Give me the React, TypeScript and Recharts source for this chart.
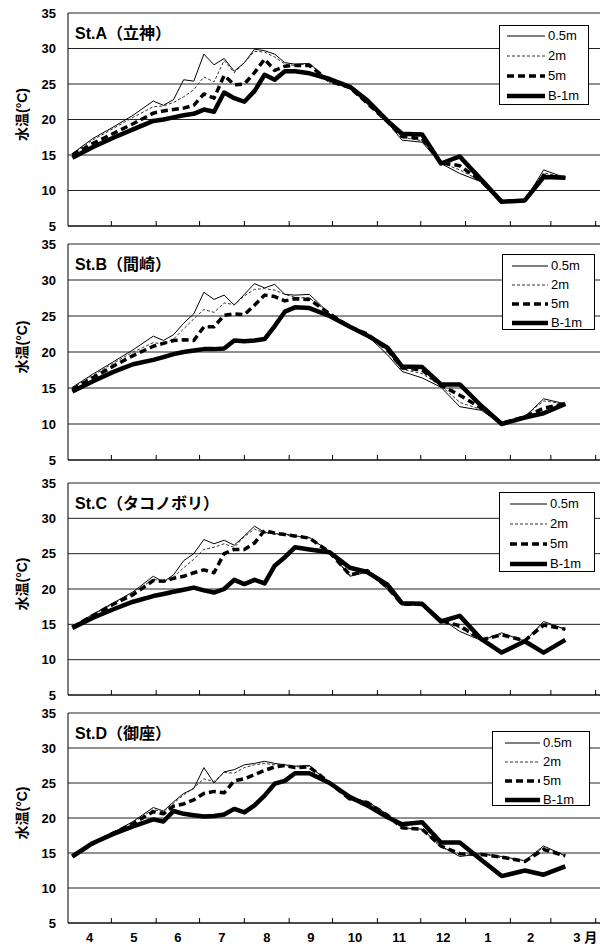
import React from 'react';
import { LineChart, Line, XAxis, YAxis, CartesianGrid, ReferenceLine, Legend } from 'recharts';

// survey days, counted from April 1
const days = [3, 17, 31, 45, 59, 66, 73, 80, 87, 94, 101, 108, 115, 122, 129, 136, 143, 150, 157, 167, 181, 195, 207, 221, 231, 245, 258, 271, 286, 300, 316, 329, 344];

const monthStarts = [0, 30, 61, 91, 122, 153, 183, 214, 244, 275, 306, 334, 365];
const monthLabels = ['4', '5', '6', '7', '8', '9', '10', '11', '12', '1', '2', '3 月'];
const yTicks = [5, 10, 15, 20, 25, 30, 35];
const depthNames = ['0.5m', '2m', '5m', 'B-1m'];
const stationNames = ['St.A（立神）', 'St.B（間崎）', 'St.C（タコノボリ）', 'St.D（御座）'];

// St.A
const stA05 = [15.2, 17.3, 18.9, 20.6, 22.6, 22.0, 22.8, 25.6, 25.4, 29.2, 27.7, 28.6, 26.8, 28.0, 29.9, 29.7, 29.2, 28.0, 27.8, 27.9, 25.4, 24.4, 22.2, 19.6, 17.1, 16.8, 13.8, 12.4, 11.2, 8.4, 8.6, 12.9, 11.8];
const stA2 = [15.1, 17.1, 18.7, 20.3, 21.8, 21.9, 22.4, 23.2, 24.2, 26.0, 25.3, 28.3, 26.6, 28.0, 29.6, 29.5, 28.8, 27.8, 27.6, 27.9, 25.2, 24.4, 22.2, 19.7, 17.5, 17.0, 13.9, 12.9, 11.3, 8.5, 8.6, 12.5, 11.8];
const stA5 = [15.0, 16.6, 18.0, 19.4, 20.9, 21.2, 21.4, 21.6, 22.0, 23.6, 23.0, 26.2, 24.9, 25.0, 26.6, 28.5, 26.9, 27.5, 27.6, 27.6, 25.4, 24.5, 22.3, 19.7, 17.6, 17.3, 13.9, 13.5, 11.3, 8.5, 8.6, 12.1, 11.8];
const stAB = [14.6, 16.1, 17.4, 18.6, 19.8, 20.0, 20.3, 20.6, 20.8, 21.4, 21.1, 23.8, 23.0, 22.5, 24.0, 26.3, 25.6, 26.8, 26.8, 26.5, 25.7, 24.6, 22.7, 19.8, 18.0, 17.9, 13.8, 14.8, 11.5, 8.4, 8.6, 11.9, 11.8];

// St.B
const stB05 = [15.1, 16.9, 18.6, 20.3, 22.2, 21.6, 22.4, 24.0, 25.3, 28.3, 27.3, 27.9, 26.5, 28.0, 29.5, 28.9, 29.4, 28.0, 27.9, 28.0, 25.3, 23.4, 22.3, 19.6, 17.3, 16.4, 15.1, 12.4, 11.9, 10.0, 11.0, 13.5, 12.8];
const stB2 = [15.0, 16.7, 18.4, 20.0, 21.3, 21.1, 21.8, 23.2, 24.6, 25.9, 25.5, 26.8, 26.6, 27.8, 28.7, 28.8, 28.6, 28.0, 27.6, 27.5, 25.3, 23.4, 22.4, 20.2, 17.6, 17.0, 15.3, 13.0, 12.0, 10.0, 11.1, 13.2, 12.8];
const stB5 = [14.8, 16.4, 18.0, 19.5, 20.8, 21.2, 21.6, 21.7, 21.6, 23.5, 23.5, 25.1, 25.3, 25.2, 26.5, 27.9, 27.7, 27.1, 27.4, 27.3, 25.3, 23.5, 22.5, 20.3, 17.8, 17.5, 15.4, 14.0, 12.2, 10.1, 11.0, 12.2, 12.8];
const stBB = [14.5, 15.9, 17.2, 18.3, 18.9, 19.3, 19.7, 20.0, 20.2, 20.4, 20.4, 20.5, 21.6, 21.5, 21.6, 21.8, 23.6, 25.6, 26.2, 26.1, 25.0, 23.5, 22.3, 20.6, 18.0, 17.9, 15.5, 15.5, 12.5, 10.0, 10.9, 11.5, 12.8];

// St.C
const stC05 = [14.7, 16.4, 18.0, 19.6, 21.8, 21.0, 22.0, 24.0, 25.0, 27.0, 26.4, 26.9, 26.2, 27.5, 28.9, 28.0, 27.8, 27.8, 27.5, 27.3, 25.3, 21.8, 22.4, 20.0, 17.9, 17.8, 15.8, 14.0, 12.7, 13.8, 12.6, 15.4, 14.3];
const stC2 = [14.7, 16.3, 17.9, 19.4, 21.4, 21.0, 21.7, 23.0, 24.2, 25.6, 25.9, 26.4, 25.9, 27.4, 28.5, 27.9, 27.8, 27.6, 27.5, 27.2, 25.2, 22.0, 22.6, 20.2, 17.9, 17.8, 15.6, 14.5, 12.8, 13.6, 12.7, 15.2, 14.3];
const stC5 = [14.6, 16.2, 17.8, 19.2, 21.2, 21.1, 21.5, 21.8, 22.3, 22.7, 22.3, 25.0, 25.6, 25.6, 26.5, 28.3, 27.9, 27.7, 27.5, 27.2, 25.2, 22.0, 22.6, 20.2, 17.9, 17.8, 15.5, 14.8, 12.8, 13.5, 12.7, 14.9, 14.3];
const stCB = [14.5, 15.9, 17.1, 18.2, 19.0, 19.3, 19.6, 19.9, 20.2, 19.8, 19.5, 20.0, 21.3, 20.7, 21.3, 20.8, 23.3, 24.5, 25.9, 25.6, 25.2, 23.0, 22.4, 20.6, 18.0, 17.9, 15.4, 16.2, 12.9, 11.0, 12.6, 11.0, 12.8];

// St.D
const stD05 = [14.6, 16.4, 17.9, 19.5, 21.5, 21.0, 22.3, 23.5, 24.2, 27.2, 25.0, 26.6, 26.9, 27.6, 27.8, 28.1, 27.8, 27.6, 27.4, 27.5, 24.9, 22.6, 22.4, 20.5, 18.6, 18.4, 16.0, 14.5, 14.9, 14.5, 13.9, 16.0, 14.6];
const stD2 = [14.6, 16.4, 17.9, 19.4, 21.2, 20.9, 22.1, 23.3, 24.3, 25.6, 25.2, 26.5, 26.4, 27.2, 27.6, 27.8, 27.6, 27.5, 27.3, 27.4, 25.0, 22.6, 22.3, 20.4, 18.5, 18.3, 15.8, 14.8, 14.9, 14.3, 13.9, 15.8, 14.6];
const stD5 = [14.5, 16.3, 17.8, 19.2, 20.9, 20.6, 21.7, 22.0, 22.6, 23.5, 23.8, 23.6, 25.3, 25.6, 26.2, 26.8, 27.3, 27.5, 27.2, 27.3, 25.0, 22.7, 22.2, 20.4, 18.6, 18.4, 16.0, 14.9, 14.8, 14.4, 13.8, 15.5, 14.6];
const stDB = [14.5, 16.4, 17.7, 18.8, 19.8, 19.5, 21.0, 20.6, 20.4, 20.2, 20.3, 20.5, 21.3, 20.8, 21.8, 23.2, 24.9, 25.3, 26.4, 26.4, 25.0, 23.0, 21.8, 20.1, 19.1, 19.4, 16.5, 16.5, 14.0, 11.7, 12.5, 11.9, 13.1];

const stationSeries = [
  [stA05, stA2, stA5, stAB],
  [stB05, stB2, stB5, stBB],
  [stC05, stC2, stC5, stCB],
  [stD05, stD2, stD5, stDB],
];

const lineStyles = [
  { stroke: '#000', width: 1, dash: undefined },
  { stroke: '#333', width: 1, dash: '3 2' },
  { stroke: '#000', width: 3.5, dash: '7 4' },
  { stroke: '#000', width: 4.5, dash: undefined },
];

// panel placement on the page
const panelLayout = [
  { top: 0, plotH: 213, legend: { left: 499, top: 25, w: 90, h: 80, rowTop: 0, rowH: 20, padL: 8, lineW: 38 } },
  { top: 231, plotH: 216, legend: { left: 502, top: 23, w: 93, h: 76, rowTop: 1, rowH: 19, padL: 10, lineW: 36 } },
  { top: 470, plotH: 212, legend: { left: 499, top: 22, w: 96, h: 80, rowTop: 1, rowH: 20, padL: 11, lineW: 37 } },
  { top: 700, plotH: 210, legend: { left: 492, top: 31, w: 98, h: 75, rowTop: 1, rowH: 19, padL: 13, lineW: 35 } },
];

const FONT = "'Liberation Sans', Arial, 'Noto Sans CJK JP', sans-serif";
const monthMids = monthLabels.map((_, i) => (monthStarts[i] + monthStarts[i + 1]) / 2);

const MonthTick = (props: any) => {
  const { x, y, index } = props;
  const last = index === monthLabels.length - 1;
  return (
    <text x={x + (last ? 12 : 0)} y={y + 19} textAnchor="middle" fontSize={13} fontWeight="bold" fill="#000" fontFamily={FONT}>
      {monthLabels[index]}
    </text>
  );
};

const YLabel = (props: any) => {
  const vb = props.viewBox;
  const cx = 22;
  const cy = vb.y + vb.height / 2 - 5;
  return (
    <text x={cx} y={cy} transform={`rotate(-90 ${cx} ${cy})`} textAnchor="middle" dominantBaseline="central" fontSize={14} fontWeight="bold" fill="#000" fontFamily={FONT}>
      水温(°C)
    </text>
  );
};

const LegendBox = ({ box }: { box: any }) => (
  <div style={{ boxSizing: 'border-box', width: box.w, height: box.h, border: '1px solid #000', background: '#fff', paddingTop: box.rowTop, fontFamily: FONT }}>
    {depthNames.map((name, i) => {
      const st = lineStyles[i];
      return (
        <div key={name} style={{ display: 'flex', alignItems: 'center', height: box.rowH, paddingLeft: box.padL - 1 }}>
          <svg width={box.lineW} height={10} style={{ display: 'block' }}>
            <line x1={0} y1={5} x2={box.lineW} y2={5} stroke={st.stroke} strokeWidth={st.width} strokeDasharray={st.dash} strokeLinecap={i === 3 ? 'round' : 'butt'} />
          </svg>
          <span style={{ fontSize: 13, marginLeft: 3, color: '#000', lineHeight: '14px' }}>{name}</span>
        </div>
      );
    })}
  </div>
);

const Panel = ({ idx }: { idx: number }) => {
  const lay = panelLayout[idx];
  const series = stationSeries[idx];
  const isBottom = idx === stationSeries.length - 1;
  const xAxisH = isBottom ? 24 : 9;
  const rows = days.map((day, i) => ({ day, d0: series[0][i], d1: series[1][i], d2: series[2][i], d3: series[3][i] }));
  return (
    <div style={{ position: 'absolute', left: 0, top: lay.top, width: 600, height: 13 + lay.plotH + xAxisH }}>
      <LineChart width={600} height={13 + lay.plotH + xAxisH} data={rows} margin={{ top: 13, right: 0, bottom: 0, left: 0 }}>
        <CartesianGrid vertical={false} stroke="#222" strokeWidth={1} />
        <XAxis
          type="number"
          dataKey="day"
          domain={[0, 368]}
          allowDataOverflow
          ticks={monthMids}
          interval={0}
          tickLine={false}
          tickSize={0}
          tickMargin={0}
          axisLine={{ stroke: '#000' }}
          height={xAxisH}
          tick={isBottom ? <MonthTick /> : false}
        />
        <YAxis
          type="number"
          domain={[5, 35]}
          ticks={yTicks}
          interval={0}
          width={68}
          tickLine={false}
          tickSize={0}
          tickMargin={12}
          axisLine={{ stroke: '#000' }}
          tick={{ fontSize: 13, fontWeight: 'bold', fill: '#000', fontFamily: FONT }}
          label={(p: any) => <YLabel {...p} />}
        />
        {monthStarts.slice(1).map((d) => (
          <ReferenceLine key={d} segment={[{ x: d, y: 5 }, { x: d, y: 5.7 }]} stroke="#000" strokeWidth={1} />
        ))}
        <Legend
          layout="horizontal"
          verticalAlign="middle"
          align="center"
          content={() => <LegendBox box={lay.legend} />}
          wrapperStyle={{ left: lay.legend.left, top: lay.legend.top, width: lay.legend.w, height: lay.legend.h }}
        />
        {depthNames.map((name, i) => (
          <Line
            key={name}
            name={name}
            type="linear"
            dataKey={`d${i}`}
            stroke={lineStyles[i].stroke}
            strokeWidth={lineStyles[i].width}
            strokeDasharray={lineStyles[i].dash}
            strokeLinejoin="round"
            dot={false}
            activeDot={false}
            isAnimationActive={false}
          />
        ))}
      </LineChart>
      <div style={{ position: 'absolute', left: 75, top: 26, fontSize: 16, fontWeight: 'bold', lineHeight: '16px', fontFamily: FONT, color: '#000', whiteSpace: 'nowrap' }}>
        {stationNames[idx]}
      </div>
    </div>
  );
};

export default function App() {
  return (
    <div style={{ position: 'absolute', left: 0, top: 0, width: 600, height: 947, background: '#fff' }}>
      {stationSeries.map((_, i) => (
        <Panel key={i} idx={i} />
      ))}
    </div>
  );
}
